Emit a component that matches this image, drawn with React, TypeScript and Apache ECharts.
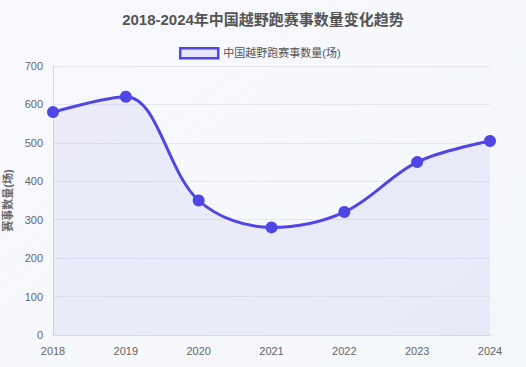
import React, { useEffect, useRef } from "react";
import * as echarts from "echarts";

const years = ["2018", "2019", "2020", "2021", "2022", "2023", "2024"];
const counts = [580, 620, 350, 280, 320, 450, 505];
const seriesName = "中国越野跑赛事数量(场)";
const titleText = "2018-2024年中国越野跑赛事数量变化趋势";
const yAxisName = "赛事数量(场)";

const FONT = "Liberation Sans, Arial, Noto Sans CJK SC, sans-serif";

export default function App() {
  const ref = useRef<HTMLDivElement>(null);
  useEffect(() => {
    if (!ref.current) return;
    const chart = echarts.init(ref.current, null, { renderer: "svg" });
    chart.setOption({
      animation: false,
      backgroundColor: new echarts.graphic.LinearGradient(0, 0, 1, 1, [
        { offset: 0, color: "#f8f9fd" },
        { offset: 1, color: "#f4f7f9" },
      ]),
      title: {
        text: titleText,
        left: "center",
        top: 7,
        textStyle: { fontSize: 15, fontWeight: "bold", color: "#555", fontFamily: FONT },
      },
      legend: {
        top: 42,
        left: 174,
        itemWidth: 38,
        itemHeight: 10,
        itemGap: 8,
        icon: "rect",
        textStyle: { fontSize: 11, color: "#555", fontFamily: FONT },
        data: [
          {
            name: seriesName,
            itemStyle: { color: "#e6e5fb", borderColor: "#4f46e5", borderWidth: 2.5 },
          },
        ],
      },
      grid: { left: 53, right: 36, top: 66, bottom: 32, containLabel: false, outerBoundsMode: "none" },
      xAxis: {
        type: "category",
        data: years,
        boundaryGap: false,
        axisLine: { lineStyle: { color: "#d9d9e3" } },
        axisTick: { show: false },
        axisLabel: { color: "#666", fontSize: 11, margin: 10, fontFamily: FONT },
        splitLine: { show: false },
      },
      yAxis: {
        type: "value",
        min: 0,
        max: 700,
        interval: 100,
        name: yAxisName,
        nameLocation: "middle",
        nameGap: 38,
        nameRotate: 90,
        nameTextStyle: { fontSize: 11, color: "#666", fontWeight: "bold", fontFamily: FONT },
        axisLine: { show: true, lineStyle: { color: "#d9d9e3" } },
        axisTick: { show: false },
        axisLabel: { color: "#666", fontSize: 11, margin: 10, fontFamily: FONT },
        splitLine: { lineStyle: { color: "#e6e6f0", width: 1 } },
      },
      series: [
        {
          name: seriesName,
          type: "line",
          data: counts,
          smooth: 0.35,
          symbol: "circle",
          symbolSize: 12,
          lineStyle: { color: "#4f46e5", width: 3 },
          itemStyle: { color: "#4f46e5" },
          areaStyle: { color: "rgba(79,70,229,0.1)" },
        },
      ],
    });
    return () => chart.dispose();
  }, []);
  return <div ref={ref} style={{ width: 526, height: 367, position: "absolute", left: 0, top: 0 }} />;
}
